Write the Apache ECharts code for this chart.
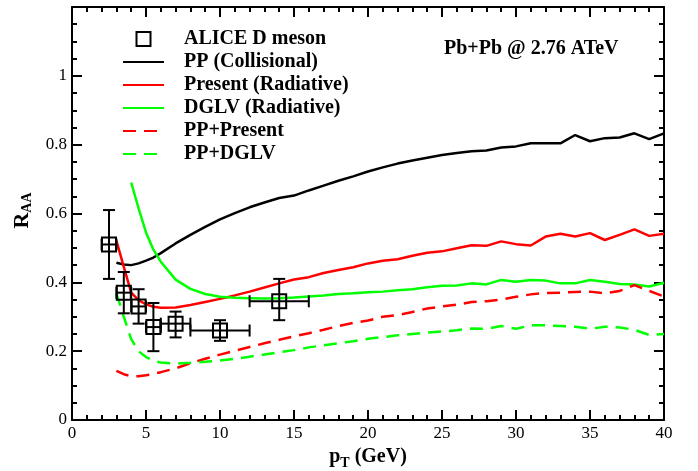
<!DOCTYPE html>
<html><head><meta charset="utf-8">
<script src="https://cdn.jsdelivr.net/npm/echarts@6/dist/echarts.min.js"></script>
<style>html,body{margin:0;padding:0;background:#fff}#c{width:698px;height:471px}</style>
</head><body><div id="c"></div>
<script>
// ---- data ----
const ptGrid = [3,3.5,4,4.5,5,5.5,6,7,8,9,10,11,12,13,14,15,16,17,18,19,20,21,22,23,24,25,26,27,28,29,30,31,32,33,34,35,36,37,38,39,40];
const ppCollisional = [0.457,0.452,0.450,0.455,0.463,0.472,0.485,0.513,0.538,0.561,0.583,0.601,0.618,0.632,0.645,0.652,0.667,0.681,0.695,0.708,0.722,0.734,0.745,0.754,0.762,0.770,0.776,0.781,0.783,0.792,0.795,0.804,0.804,0.804,0.828,0.810,0.819,0.821,0.833,0.816,0.833];
const presentRadiative = [0.521,0.445,0.370,0.348,0.336,0.329,0.326,0.327,0.334,0.343,0.352,0.362,0.373,0.385,0.397,0.408,0.415,0.427,0.436,0.444,0.455,0.463,0.467,0.477,0.486,0.490,0.499,0.508,0.506,0.519,0.511,0.507,0.533,0.541,0.533,0.543,0.523,0.538,0.554,0.535,0.541];
const dglvRadiative = [null,null,0.690,0.615,0.545,0.495,0.460,0.408,0.381,0.366,0.358,0.355,0.354,0.353,0.354,0.356,0.359,0.362,0.366,0.368,0.371,0.373,0.377,0.380,0.386,0.390,0.391,0.397,0.394,0.407,0.402,0.407,0.405,0.397,0.397,0.407,0.402,0.395,0.394,0.388,0.399];
const ppPresent = [0.143,0.133,0.127,0.127,0.130,0.134,0.139,0.150,0.165,0.178,0.190,0.201,0.212,0.223,0.233,0.243,0.252,0.262,0.273,0.282,0.289,0.300,0.305,0.314,0.324,0.330,0.335,0.343,0.345,0.350,0.358,0.365,0.369,0.370,0.372,0.373,0.368,0.375,0.392,0.375,0.359];
const ppDglv = [0.368,0.300,0.235,0.200,0.183,0.172,0.167,0.164,0.166,0.169,0.173,0.178,0.184,0.190,0.197,0.203,0.211,0.217,0.223,0.229,0.236,0.241,0.246,0.250,0.254,0.257,0.261,0.266,0.265,0.273,0.265,0.275,0.275,0.273,0.271,0.265,0.271,0.269,0.262,0.247,0.250];

const aliceX = [2.5,3.5,4.5,5.5,7,10,14];
const aliceY = [0.51,0.37,0.33,0.27,0.28,0.26,0.345];
const aliceYLow = [0.41,0.31,0.28,0.20,0.24,0.23,0.29];
const aliceYHigh = [0.61,0.43,0.38,0.34,0.315,0.29,0.41];
const aliceXLow = [2,3,4,5,6,8,12];
const aliceXHigh = [3,4,5,6,8,12,16];

const seriesNames = ['ALICE D meson','PP (Collisional)','Present (Radiative)','DGLV (Radiative)','PP+Present','PP+DGLV'];
const titleText = 'Pb+Pb @ 2.76 ATeV';

// ---- chart ----
const FONT = 'Liberation Serif';
const pair = (xs, ys) => xs.map((x, i) => [x, ys[i]]);
const aliceData = aliceX.map((x, i) => [x, aliceY[i], aliceYLow[i], aliceYHigh[i], aliceXLow[i], aliceXHigh[i]]);

function lineSeries(name, ys, color, dashed) {
  return {
    name, type: 'line', data: pair(ptGrid, ys), showSymbol: false, symbol: 'none',
    connectNulls: false, animation: false, z: 3,
    lineStyle: { color, width: 2.5, type: dashed ? [13, 8] : 'solid' },
    itemStyle: { color }
  };
}

function axisParts(split) {
  return {
    axisLine: { show: true, onZero: false, lineStyle: { color: '#000', width: 2 } },
    axisTick: { show: true, inside: true, length: 10, lineStyle: { color: '#000', width: 2 } },
    minorTick: { show: true, splitNumber: split, length: 5, lineStyle: { color: '#000', width: 2 } },
    splitLine: { show: false },
    minorSplitLine: { show: false }
  };
}

const hiddenMarker = { opacity: 0 };

const chart = echarts.init(document.getElementById('c'), null, { renderer: 'canvas' });
chart.setOption({
  animation: false,
  backgroundColor: '#fff',
  textStyle: { fontFamily: FONT, color: '#000' },
  title: {
    text: titleText, left: 444, top: 39, padding: 0,
    textStyle: { fontFamily: FONT, fontSize: 20, fontWeight: 'bold', color: '#000' }
  },
  legend: {
    orient: 'vertical', left: 122, top: 29, padding: 0,
    itemWidth: 41, itemHeight: 14, itemGap: 3,
    textStyle: { fontFamily: FONT, fontSize: 20, fontWeight: 'bold', color: '#000', padding: [0, 0, 0, 15] },
    data: [
      { name: seriesNames[0], icon: 'path://M0 0H10V10H0Z', itemStyle: { color: 'rgba(0,0,0,0)', borderColor: '#000', borderWidth: 2 } },
      { name: seriesNames[1], itemStyle: hiddenMarker },
      { name: seriesNames[2], itemStyle: hiddenMarker },
      { name: seriesNames[3], itemStyle: hiddenMarker },
      { name: seriesNames[4], itemStyle: hiddenMarker },
      { name: seriesNames[5], itemStyle: hiddenMarker }
    ]
  },
  grid: { left: 72, right: 34, top: 7, bottom: 51, containLabel: false, outerBoundsMode: 'none' },
  xAxis: [
    Object.assign({
      type: 'value', min: 0, max: 40, interval: 5,
      name: 'p{sub|T} (GeV)', nameLocation: 'middle', nameGap: 23,
      nameTextStyle: { fontFamily: FONT, fontSize: 20, fontWeight: 'bold', color: '#000',
        rich: { sub: { fontFamily: FONT, fontSize: 14, fontWeight: 'bold', color: '#000', padding: [12, 0, 0, 0] } } },
      axisLabel: { fontFamily: FONT, fontSize: 17, color: '#000', margin: 5 }
    }, axisParts(5)),
    Object.assign({
      type: 'value', min: 0, max: 40, interval: 5, position: 'top', axisLabel: { show: false }
    }, axisParts(5))
  ],
  yAxis: [
    Object.assign({
      type: 'value', min: 0, max: 1.2, interval: 0.2,
      name: 'R{sub|AA}', nameLocation: 'middle', nameGap: 29,
      nameTextStyle: { fontFamily: FONT, fontSize: 22, fontWeight: 'bold', color: '#000', padding: [0, 0, 0, 6],
        rich: { sub: { fontFamily: FONT, fontSize: 14, fontWeight: 'bold', color: '#000', padding: [12, 0, 0, 0] } } },
      axisLabel: { fontFamily: FONT, fontSize: 17, color: '#000', margin: 5, showMaxLabel: false }
    }, axisParts(4)),
    Object.assign({
      type: 'value', min: 0, max: 1.2, interval: 0.2, position: 'right', axisLabel: { show: false }
    }, axisParts(4))
  ],
  series: [
    {
      name: seriesNames[0], type: 'custom', data: aliceData, z: 4,
      encode: { x: 0, y: 1 },
      itemStyle: { color: '#000' },
      renderItem: function (params, api) {
        const x = api.value(0), y = api.value(1);
        const c = api.coord([x, y]);
        const t = api.coord([x, api.value(3)]), b = api.coord([x, api.value(2)]);
        const l = api.coord([api.value(4), y]), r = api.coord([api.value(5), y]);
        const cap = 6, h = 7;
        const st = { stroke: '#000', lineWidth: 2, fill: null };
        return { type: 'group', children: [
          { type: 'line', shape: { x1: t[0], y1: t[1], x2: b[0], y2: b[1] }, style: st },
          { type: 'line', shape: { x1: t[0] - cap, y1: t[1], x2: t[0] + cap, y2: t[1] }, style: st },
          { type: 'line', shape: { x1: b[0] - cap, y1: b[1], x2: b[0] + cap, y2: b[1] }, style: st },
          { type: 'line', shape: { x1: l[0], y1: l[1], x2: r[0], y2: r[1] }, style: st },
          { type: 'line', shape: { x1: l[0], y1: l[1] - cap, x2: l[0], y2: l[1] + cap }, style: st },
          { type: 'line', shape: { x1: r[0], y1: r[1] - cap, x2: r[0], y2: r[1] + cap }, style: st },
          { type: 'rect', shape: { x: c[0] - h, y: c[1] - h, width: 2 * h, height: 2 * h }, style: { stroke: '#000', lineWidth: 2, fill: null } }
        ] };
      }
    },
    lineSeries(seriesNames[1], ppCollisional, '#000000', false),
    lineSeries(seriesNames[2], presentRadiative, '#ff0000', false),
    lineSeries(seriesNames[3], dglvRadiative, '#00ff00', false),
    lineSeries(seriesNames[4], ppPresent, '#ff0000', true),
    lineSeries(seriesNames[5], ppDglv, '#00ff00', true)
  ]
});
</script>
</body></html>
